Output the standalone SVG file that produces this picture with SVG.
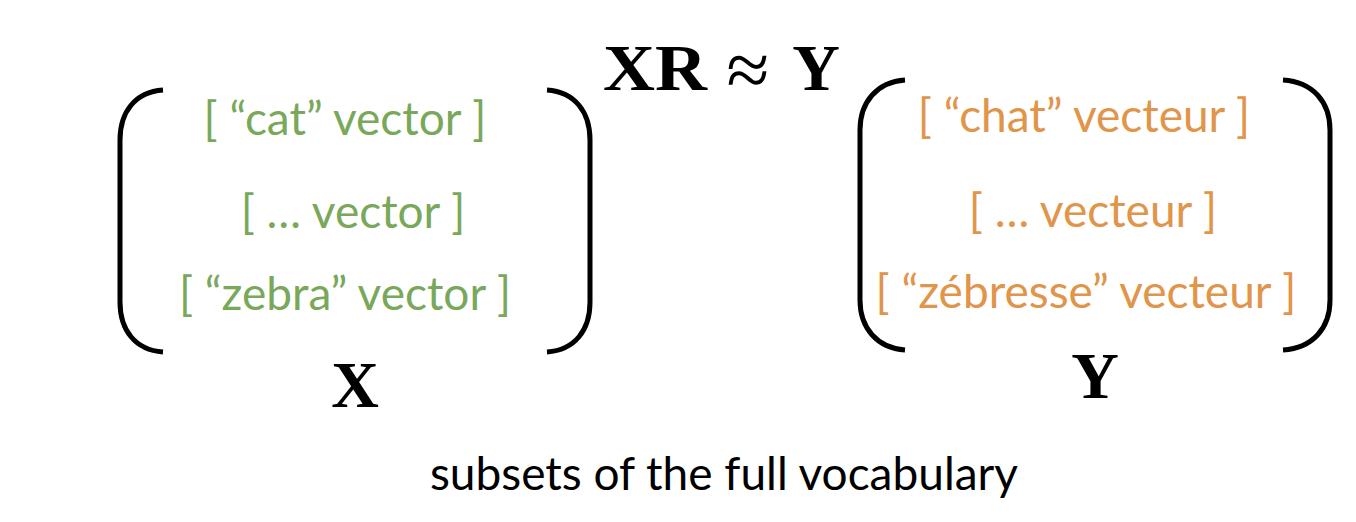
<svg xmlns="http://www.w3.org/2000/svg" width="1356" height="522" viewBox="0 0 1356 522">
<style>
.br{fill:none;stroke:#000;stroke-width:5;stroke-linecap:butt}
.g{font-family:Lato,"Noto Sans",sans-serif;font-size:46px;fill:#79a85b;text-anchor:middle}
.o{font-family:Lato,"Noto Sans",sans-serif;font-size:46px;fill:#e0954a;text-anchor:middle}
.m{font-family:"Liberation Serif","DejaVu Serif",serif;font-weight:bold;font-size:66px;fill:#000;text-anchor:middle}
.c{font-family:Lato,"Noto Sans",sans-serif;font-size:46px;fill:#000;text-anchor:middle}
</style>
<rect width="1356" height="522" fill="#fff"/>
<g id="matrixX">
<path class="br" d="M163,90 C135,92 120,112 120,140 L120,302 C120,330 135,350 163,352"/>
<path class="br" d="M547,90 C575,92 590,112 590,140 L590,302 C590,330 575,350 547,352"/>
<text class="g" x="345" y="135">[ “cat” vector ]</text>
<text class="g" x="353" y="228">[ … vector ]</text>
<text class="g" x="345" y="310">[ “zebra” vector ]</text>
<text class="m" x="355" y="407">X</text>
</g>
<g id="matrixY">
<path class="br" d="M905,80 C877,82 860,102 860,130 L860,300 C860,328 877,348 905,350"/>
<path class="br" d="M1283,80 C1313,82 1330,102 1330,130 L1330,300 C1330,328 1313,348 1283,350"/>
<text class="o" x="1084" y="132">[ “chat” vecteur ]</text>
<text class="o" x="1093" y="227">[ … vecteur ]</text>
<text class="o" x="1086" y="308">[ “zébresse” vecteur ]</text>
<text class="m" x="1095" y="398">Y</text>
</g>
<g id="equation">
<text class="m" x="655" y="90" textLength="104" lengthAdjust="spacingAndGlyphs">XR</text>
<text class="m" x="748" y="96" style="font-weight:normal;font-size:78px">≈</text>
<text class="m" x="816" y="90">Y</text>
</g>
<g id="caption">
<text class="c" x="724" y="490">subsets of the full vocabulary</text>
</g>
</svg>
